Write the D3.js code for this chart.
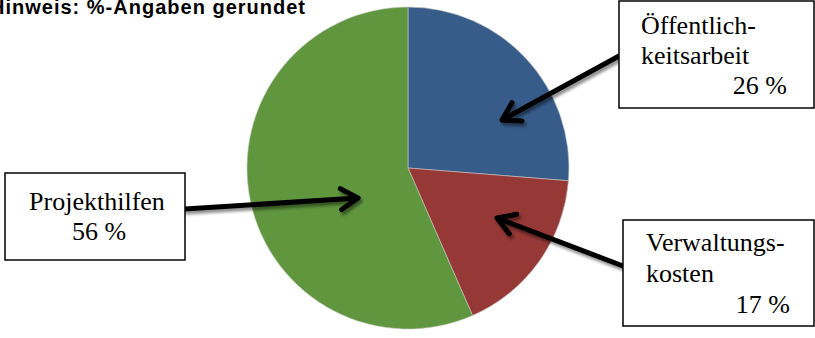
<!DOCTYPE html>
<html>
<head>
<meta charset="utf-8">
<script src="https://cdn.jsdelivr.net/npm/d3@7/dist/d3.min.js"></script>
<style>
  html, body { margin: 0; padding: 0; background: #fff; }
  svg { display: block; }
</style>
</head>
<body>
<svg id="chart" width="815" height="338"></svg>
<script>
// ---- data ----
const categories = ["Öffentlichkeitsarbeit", "Verwaltungskosten", "Projekthilfen"];
const values = [26, 17, 56];
const labelLines = [["Öffentlich-", "keitsarbeit"], ["Verwaltungs-", "kosten"], ["Projekthilfen"]];
const note = "Hinweis: %-Angaben gerundet";

// ---- styles / layout ----
const colors = ["#375C89", "#963836", "#5F963E"];
const svg = d3.select("#chart");
const cx = 408, cy = 168, r = 161;

const defs = svg.append("defs");
const f = defs.append("filter").attr("id", "shadow").attr("x", "-20%").attr("y", "-20%").attr("width", "140%").attr("height", "160%");
f.append("feGaussianBlur").attr("in", "SourceAlpha").attr("stdDeviation", 1.8).attr("result", "b");
f.append("feOffset").attr("in", "b").attr("dx", 2).attr("dy", 3).attr("result", "o");
f.append("feComponentTransfer").attr("in", "o").attr("result", "o2")
  .append("feFuncA").attr("type", "linear").attr("slope", 0.45);
const m = f.append("feMerge");
m.append("feMergeNode").attr("in", "o2");
m.append("feMergeNode").attr("in", "SourceGraphic");

// note text
svg.append("text")
  .attr("x", -10).attr("y", 14)
  .attr("font-family", "Liberation Sans, Arial, sans-serif")
  .attr("font-weight", "bold").attr("font-size", 20)
  .attr("textLength", 315).attr("lengthAdjust", "spacing")
  .attr("fill", "#000")
  .text(note);

// pie
const pie = d3.pie().sort(null).value(d => d).startAngle(0).endAngle(2 * Math.PI);
const arc = d3.arc().innerRadius(0).outerRadius(r);
const arcs = pie(values);
const g = svg.append("g").attr("transform", `translate(${cx},${cy})`);
g.selectAll("path").data(arcs).join("path")
  .attr("d", arc)
  .attr("fill", (d, i) => colors[i])
  .attr("stroke", "#c8c8c8").attr("stroke-width", 0.6);

// label boxes
const boxes = [
  { x: 619, y: 1, w: 195, h: 107, lines: [34, 64], pctY: 94, pctX: 787, textX: 641, align: "right",
    tail: [619, 56], tip: [502, 120] },
  { x: 623, y: 220, w: 191, h: 106, lines: [251, 282], pctY: 313, pctX: 790, textX: 646, align: "right",
    tail: [623, 266], tip: [497, 218] },
  { x: 5, y: 173, w: 180, h: 87, lines: [210], pctY: 240, pctX: 99, textX: 97, align: "center",
    tail: [185, 209], tip: [358, 198] }
];

// arrows
const arrowG = svg.append("g").attr("filter", "url(#shadow)");
boxes.forEach((b, i) => {
  const [x1, y1] = b.tail, [x2, y2] = b.tip;
  const ang = Math.atan2(y1 - y2, x1 - x2);
  const L = 20, a = 0.55;
  const p = d3.path();
  p.moveTo(x1, y1); p.lineTo(x2, y2);
  p.moveTo(x2 + L * Math.cos(ang + a), y2 + L * Math.sin(ang + a));
  p.lineTo(x2, y2);
  p.lineTo(x2 + L * Math.cos(ang - a), y2 + L * Math.sin(ang - a));
  arrowG.append("path").attr("d", p.toString())
    .attr("fill", "none").attr("stroke", "#000").attr("stroke-width", 5)
    .attr("stroke-linecap", "round").attr("stroke-linejoin", "round");
});

boxes.forEach((b, i) => {
  svg.append("rect").attr("x", b.x).attr("y", b.y).attr("width", b.w).attr("height", b.h)
    .attr("fill", "#fff").attr("stroke", "#000").attr("stroke-width", 1.5);
  const t = svg.append("g").attr("font-family", "Liberation Serif, Times New Roman, serif")
    .attr("font-size", 26).attr("fill", "#000");
  labelLines[i].forEach((ln, j) => {
    t.append("text").attr("x", b.textX).attr("y", b.lines[j])
      .attr("text-anchor", b.align === "center" ? "middle" : "start").text(ln);
  });
  t.append("text").attr("x", b.pctX).attr("y", b.pctY)
    .attr("text-anchor", b.align === "center" ? "middle" : "end")
    .text(values[i] + " %");
});
</script>
</body>
</html>
